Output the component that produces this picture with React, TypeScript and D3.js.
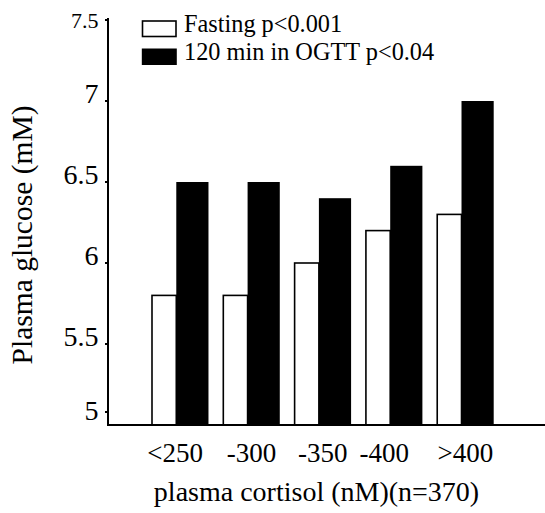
import React from "react";
import * as d3 from "d3";

const categories = ["<250", "-300", "-350", "-400", ">400"];
const fasting = [5.8, 5.8, 6.0, 6.2, 6.3];
const ogtt120 = [6.5, 6.5, 6.4, 6.6, 7.0];
const yTicks = [5, 5.5, 6, 6.5, 7, 7.5];
const yTickLabels = ["5", "5.5", "6", "6.5", "7", "7.5"];
const legendLabels = ["Fasting p<0.001", "120 min in OGTT p<0.04"];
const xTitle = "plasma cortisol (nM)(n=370)";
const yTitle = "Plasma glucose (mM)";

const W = 545;
const H = 513;
const FONT = "'Liberation Serif', 'Times New Roman', serif";

export default function App() {
  const axisX = 108;
  const y = d3.scaleLinear().domain([5, 7.5]).range([425, 20]);
  const x = d3
    .scaleBand<string>()
    .domain(categories)
    .range([152, 493.7])
    .paddingInner(0.208)
    .paddingOuter(0);
  const bw = x.bandwidth();
  const fastW = bw * 0.43;
  const ogttW = bw - fastW;

  // small label nudges (layout only)
  const tickLabelDy: Record<string, number> = { "7.5": 8, "5": -5 };
  const tickMarkDy: Record<string, number> = { "5": -13 };
  const xLabelDx: Record<string, number> = { "<250": -5, "-400": -10 };

  return (
    <svg
      width={W}
      height={H}
      style={{ position: "absolute", left: 0, top: 0, background: "#fff" }}
      fontFamily={FONT}
    >
      <rect x={0} y={0} width={W} height={H} fill="#fff" />
      {categories.map((c, i) => {
        const x0 = x(c)!;
        return (
          <g key={c}>
            <rect
              x={x0}
              y={y(fasting[i])}
              width={fastW}
              height={y(5) - y(fasting[i])}
              fill="#fff"
              stroke="#000"
              strokeWidth={1.6}
            />
            <rect
              x={x0 + fastW}
              y={y(ogtt120[i])}
              width={ogttW}
              height={y(5) - y(ogtt120[i])}
              fill="#000"
            />
          </g>
        );
      })}
      <line x1={axisX} x2={axisX} y1={18} y2={426} stroke="#000" strokeWidth={2} />
      <line x1={axisX - 1} x2={W} y1={425} y2={425} stroke="#000" strokeWidth={2} />
      {yTicks.map((v, i) => {
        const lbl = yTickLabels[i];
        const ty = y(v) + (tickMarkDy[lbl] ?? 0);
        return (
          <g key={lbl}>
            <line x1={axisX - 3} x2={axisX} y1={ty} y2={ty} stroke="#000" strokeWidth={2} />
            <text
              x={98.5}
              y={y(v) + (tickLabelDy[lbl] ?? 2)}
              textAnchor="end"
              fontSize={lbl === "7.5" ? 22 : 28}
              fill="#000"
            >
              {lbl}
            </text>
          </g>
        );
      })}
      {categories.map((c) => (
        <text
          key={c}
          x={x(c)! + bw / 2 + (xLabelDx[c] ?? 0)}
          y={461.5}
          textAnchor="middle"
          fontSize={27}
          fill="#000"
        >
          {c}
        </text>
      ))}
      <text x={316.5} y={501} textAnchor="middle" fontSize={28} fill="#000">
        {xTitle}
      </text>
      <text
        transform={`translate(32, 235) rotate(-90)`}
        textAnchor="middle"
        fontSize={29.5}
        fill="#000"
      >
        {yTitle}
      </text>
      <rect x={142.5} y={21} width={33.5} height={15.5} fill="#fff" stroke="#000" strokeWidth={1.6} />
      <rect x={141.8} y={48.5} width={35} height={16.5} fill="#000" />
      <text x={184} y={31.5} fontSize={24.3} fill="#000">
        {legendLabels[0]}
      </text>
      <text x={184} y={60} fontSize={24.3} fill="#000">
        {legendLabels[1]}
      </text>
    </svg>
  );
}
